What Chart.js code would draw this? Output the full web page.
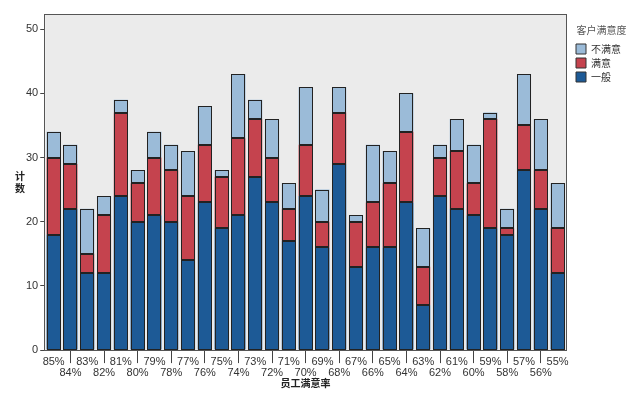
<!DOCTYPE html>
<html>
<head>
<meta charset="utf-8">
<script src="https://cdn.jsdelivr.net/npm/chart.js@4.4.0/dist/chart.umd.min.js"></script>
<style>
    html, body { margin: 0; background: #fff; }
    #wrap { width: 635px; height: 394px; }
</style>
</head>
<body>
<div id="wrap"><canvas id="chart"></canvas></div>
<script>
const categories = ['85%', '84%', '83%', '82%', '81%', '80%', '79%', '78%', '77%', '76%',
    '75%', '74%', '73%', '72%', '71%', '70%', '69%', '68%', '67%', '66%',
    '65%', '64%', '63%', '62%', '61%', '60%', '59%', '58%', '57%', '56%', '55%'];

// 一般 / 满意 / 不满意 counts per category
const yiban   = [18, 22, 12, 12, 24, 20, 21, 20, 14, 23, 19, 21, 27, 23, 17, 24, 16, 29, 13, 16, 16, 23, 7, 24, 22, 21, 19, 18, 28, 22, 12];
const manyi   = [12, 7, 3, 9, 13, 6, 9, 8, 10, 9, 8, 12, 9, 7, 5, 8, 4, 8, 7, 7, 10, 11, 6, 6, 9, 5, 17, 1, 7, 6, 7];
const bumanyi = [4, 3, 7, 3, 2, 2, 4, 4, 7, 6, 1, 10, 3, 6, 4, 9, 5, 4, 1, 9, 5, 6, 6, 2, 5, 6, 1, 3, 8, 8, 7];

const yTicks = [0, 10, 20, 30, 40, 50];

const FONT = '"Liberation Sans", "Noto Sans CJK SC", sans-serif';
const CJK = '"Noto Sans CJK SC", sans-serif';

// plot background + frame + vertical y title
const plotFrame = {
    id: 'plotFrame',
    beforeDraw(chart) {
        const { ctx, chartArea: a } = chart;
        ctx.save();
        ctx.fillStyle = '#ebebeb';
        ctx.fillRect(a.left, a.top, a.right - a.left, a.bottom - a.top);
        ctx.restore();
    },
    afterDatasetsDraw(chart) {
        // crisp outline around every bar segment
        const ctx = chart.ctx;
        ctx.save();
        ctx.strokeStyle = '#222';
        ctx.lineWidth = 1;
        chart.data.datasets.forEach((ds, i) => {
            chart.getDatasetMeta(i).data.forEach(bar => {
                const { x, y, base, width } = bar.getProps(['x', 'y', 'base', 'width'], true);
                const l = Math.round(x - width / 2) + 0.5;
                const r = Math.round(x + width / 2) - 0.5;
                const t = Math.round(Math.min(y, base)) + 0.5;
                const b = Math.round(Math.max(y, base)) - 0.5;
                ctx.strokeRect(l, t, r - l, b - t);
            });
        });
        ctx.restore();
    },
    afterDraw(chart) {
        const { ctx, chartArea: a } = chart;
        ctx.save();
        ctx.strokeStyle = '#555';
        ctx.lineWidth = 1;
        ctx.strokeRect(Math.round(a.left) - 0.5, Math.round(a.top) - 0.5,
            Math.round(a.right - a.left) + 1, Math.round(a.bottom - a.top) + 1);
        ctx.fillStyle = '#222';
        ctx.font = 'bold 10px ' + CJK;
        ctx.textAlign = 'center';
        ctx.textBaseline = 'middle';
        ctx.fillText('计', 20, 176);
        ctx.fillText('数', 20, 188);
        ctx.restore();
    }
};

const ctx = document.getElementById('chart').getContext('2d');
new Chart(ctx, {
    type: 'bar',
    data: {
        labels: categories,
        datasets: [
            { label: '一般', data: yiban, backgroundColor: '#1d5a96' },
            { label: '满意', data: manyi, backgroundColor: '#c5434e' },
            { label: '不满意', data: bumanyi, backgroundColor: '#9bbbd8' }
        ].map(d => Object.assign(d, {
            borderColor: '#222',
            borderWidth: 0,
            inflateAmount: 0,
            barPercentage: 0.84,
            categoryPercentage: 1
        }))
    },
    options: {
        responsive: true,
        maintainAspectRatio: false,
        animation: false,
        layout: { padding: { left: 24, top: 15, right: 4, bottom: 5 } },
        plugins: {
            tooltip: { enabled: false },
            legend: {
                position: 'right',
                align: 'start',
                reverse: true,
                title: {
                    display: true,
                    text: '客户满意度',
                    color: '#555',
                    font: { family: CJK, size: 10 },
                    padding: { top: 10, bottom: 3 }
                },
                labels: {
                    boxWidth: 10,
                    boxHeight: 10,
                    padding: 4,
                    color: '#333',
                    font: { family: CJK, size: 10 },
                    generateLabels: chart => Chart.defaults.plugins.legend.labels.generateLabels(chart)
                        .map(l => Object.assign(l, { lineWidth: 1, strokeStyle: '#333' }))
                }
            }
        },
        scales: {
            x: {
                stacked: true,
                offset: true,
                border: { display: false },
                grid: {
                    offset: false,
                    drawOnChartArea: false,
                    tickLength: 13,
                    tickColor: c => c.index % 2 ? '#444' : 'rgba(0,0,0,0)'
                },
                ticks: {
                    autoSkip: false,
                    maxRotation: 0,
                    padding: -6,
                    color: '#333',
                    font: { family: FONT, size: 11, lineHeight: 0.95 },
                    callback: (v, i) => i % 2 ? ['', categories[i]] : categories[i]
                },
                title: {
                    display: true,
                    text: '员工满意率',
                    color: '#222',
                    font: { family: CJK, size: 10, weight: 'bold' },
                    padding: { top: 5, bottom: 0 }
                }
            },
            y: {
                stacked: true,
                min: 0,
                max: 52.2,
                border: { display: false },
                grid: { drawOnChartArea: false, tickLength: 5, tickColor: '#444' },
                afterBuildTicks: s => { s.ticks = yTicks.map(v => ({ value: v })); },
                ticks: {
                    padding: 2,
                    color: '#333',
                    font: { family: FONT, size: 11 }
                }
            },
            // empty spacer between plot and legend
            gap: {
                type: 'linear',
                position: 'right',
                display: true,
                grid: { display: false },
                border: { display: false },
                ticks: { display: false },
                afterFit: s => { s.width = 6; }
            }
        }
    },
    plugins: [plotFrame]
});
</script>
</body>
</html>
